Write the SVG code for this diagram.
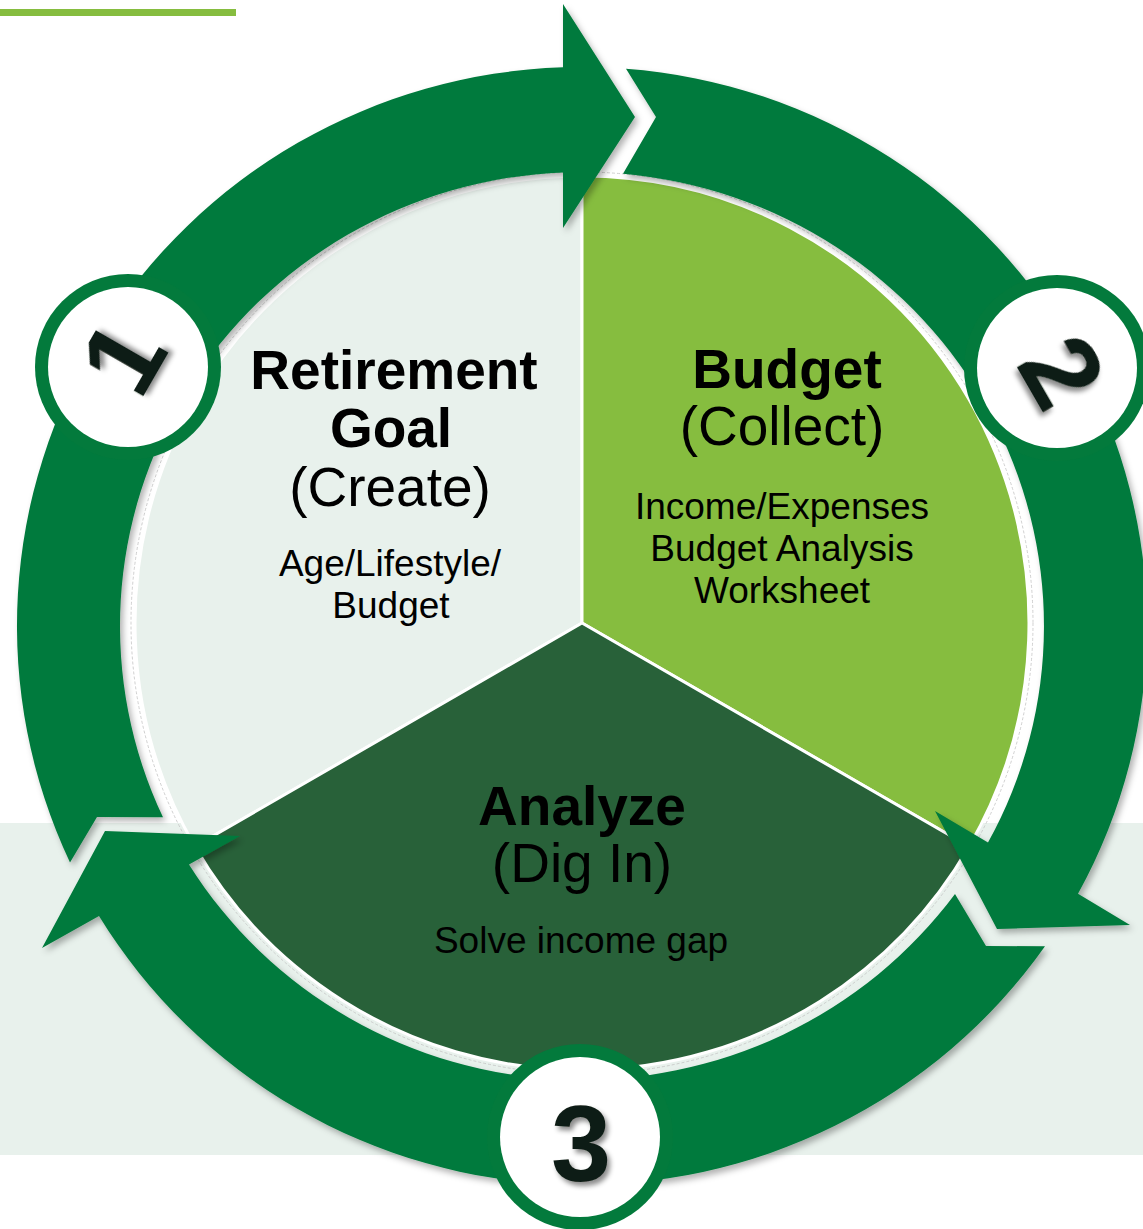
<svg xmlns="http://www.w3.org/2000/svg" width="1143" height="1229" viewBox="0 0 1143 1229">
  <defs>
    <style>
      .ring { fill: #037A3C; }
      .sep { stroke: #FFFFFF; stroke-width: 3; stroke-linejoin: round; }
      .badge-ring { fill: #037A3C; }
      .badge-face { fill: #FFFFFF; }
      .digit { font-family: "Liberation Sans", Arial, sans-serif; font-weight: bold; font-size: 108px; fill: #111D15; text-anchor: middle; }
      .head { font-family: "Liberation Sans", Arial, sans-serif; font-weight: bold; font-size: 55px; fill: #000000; text-anchor: middle; }
      .sub { font-family: "Liberation Sans", Arial, sans-serif; font-size: 55px; fill: #000000; text-anchor: middle; }
      .body { font-family: "Liberation Sans", Arial, sans-serif; font-size: 37px; fill: #000000; text-anchor: middle; }
    </style>
    <filter id="arrowShadow" x="-10%" y="-10%" width="120%" height="120%">
      <feDropShadow dx="3" dy="4" stdDeviation="3" flood-color="#000000" flood-opacity="0.3"/>
    </filter>
    <filter id="digitShadow" x="-30%" y="-30%" width="160%" height="160%">
      <feDropShadow dx="3" dy="4" stdDeviation="2.5" flood-color="#000000" flood-opacity="0.45"/>
    </filter>
  </defs>

  <!-- page background and decorations -->
  <rect x="0" y="0" width="1143" height="1229" fill="#FFFFFF"/>
  <rect x="0" y="823" width="1143" height="332" fill="#E8F1EC"/>
  <rect x="0" y="9" width="236" height="7" fill="#86BD3F"/>

  <!-- central pie -->
  <g id="pie">
    <circle cx="582" cy="623" r="451" fill="none" stroke="#C4C4C4" stroke-width="0.8" stroke-dasharray="3 2"/>
    <g id="sector-goal">
      <path class="sep" d="M582,623 L582,176 A447,447 0 0 0 194.9,846.5 Z" fill="#E8F1EC"/>
    </g>
    <g id="sector-budget">
      <path class="sep" d="M582,623 L582,176 A447,447 0 0 1 969.1,846.5 Z" fill="#86BD3F"/>
    </g>
    <g id="sector-analyze">
      <path class="sep" d="M582,623 L969.1,846.5 A447,447 0 0 1 194.9,846.5 Z" fill="#286139"/>
    </g>
  </g>

  <!-- circular arrows -->
  <g id="connectors" filter="url(#arrowShadow)">
    <path id="arrow-1-2" class="ring" d="M70,862.4 L97,817 L163,817.3 A462,454 0 0 1 563,172.4 L563,228 L635,117 L563,4 L563,67.3 A565,559 0 0 0 70,862.4 Z"/>
    <path id="arrow-2-3" class="ring" d="M626,68.7 L656,117 L623,173.8 A462,454 0 0 1 988,842.6 L935,811 L997,929 L1130,925 L1078,893.7 A565,559 0 0 0 626,68.7 Z"/>
    <path id="arrow-3-1" class="ring" d="M1045,946.3 L986,946 L955,893.9 A462,454 0 0 1 189,864.5 L240,836 L105,831 L42,948 L99,916 A565,559 0 0 0 1045,946.3 Z"/>
  </g>

  <!-- step badges -->
  <g id="badge-1">
    <circle class="badge-ring" cx="128" cy="367" r="93"/>
    <circle class="badge-face" cx="128" cy="367" r="80"/>
    <g transform="translate(122,357) rotate(-60)">
      <text class="digit" x="0" y="38" filter="url(#digitShadow)">1</text>
    </g>
  </g>
  <g id="badge-2">
    <circle class="badge-ring" cx="1057" cy="368" r="93"/>
    <circle class="badge-face" cx="1057" cy="368" r="80"/>
    <g transform="translate(1063,371) rotate(60)">
      <text class="digit" x="0" y="38" filter="url(#digitShadow)">2</text>
    </g>
  </g>
  <g id="badge-3">
    <circle class="badge-ring" cx="580" cy="1137" r="93"/>
    <circle class="badge-face" cx="580" cy="1137" r="80"/>
    <text class="digit" x="581" y="1181" filter="url(#digitShadow)">3</text>
  </g>

  <!-- sector labels -->
  <g id="label-goal">
    <text class="head" x="394" y="389">Retirement</text>
    <text class="head" x="391" y="447">Goal</text>
    <text class="sub" x="390" y="506">(Create)</text>
    <text class="body" x="390" y="576">Age/Lifestyle/</text>
    <text class="body" x="391" y="618">Budget</text>
  </g>
  <g id="label-budget">
    <text class="head" x="787" y="388">Budget</text>
    <text class="sub" x="782" y="445">(Collect)</text>
    <text class="body" x="782" y="519">Income/Expenses</text>
    <text class="body" x="782" y="561">Budget Analysis</text>
    <text class="body" x="782" y="603">Worksheet</text>
  </g>
  <g id="label-analyze">
    <text class="head" x="582" y="825">Analyze</text>
    <text class="sub" x="582" y="882">(Dig In)</text>
    <text class="body" x="581" y="953">Solve income gap</text>
  </g>
</svg>
